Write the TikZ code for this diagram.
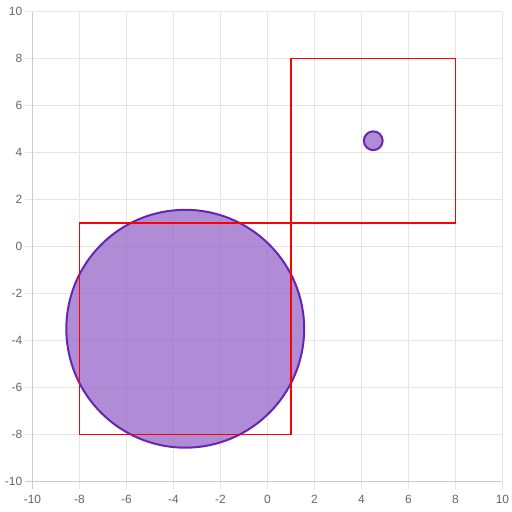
\documentclass[tikz,border=0pt]{standalone}
\usepackage{fontspec}
\setmainfont{Liberation Sans}
\usepackage{xcolor}
\definecolor{blobline}{RGB}{102,38,178}
\definecolor{blobfill}{RGB}{176,139,214}
\definecolor{blobgrid}{RGB}{170,132,207}
\definecolor{regionred}{RGB}{255,0,0}

\begin{document}
\begin{tikzpicture}[
        x=0.705cm, y=0.705cm,
        gridline/.style={draw=gray!20, line width=0.03cm},
        axisline/.style={draw=gray!40, line width=0.03cm},
        ticklabel/.style={text=gray!80!black, font=\fontsize{10.2}{12}\selectfont, inner sep=0pt},
        region/.style={draw=regionred, line width=0.04cm},
        blob/.style={draw=blobline, fill=blobfill, line width=0.06cm}
    ]
        \useasboundingbox (-11.383,-11.298) rectangle (10.4043,10.4894);
        % grid and ticks
        \foreach \v in {-8,-6,...,10} {
            \draw[gridline] (\v,-10.34) -- (\v,10);
            \draw[gridline] (-10.34,\v) -- (10,\v);
        }
        \draw[axisline] (-10,-10.34) -- (-10,10);
        \draw[axisline] (-10.34,-10) -- (10,-10);
        \foreach \v in {-10,-8,...,10} {
            \node[ticklabel, anchor=east] (ylab\v) at (-10.426,\v) {\v};
            \node[ticklabel] (xlab\v) at (\v,-10.76) {\v};
        }
        % circles
        \fill[blobfill] (-3.5,-3.5) circle [radius=5.06];
        \begin{scope}
            \clip (-3.5,-3.5) circle [radius=5.06];
            \foreach \v in {-8,-6,...,0} {
                \draw[gridline, draw=blobgrid] (\v,-10) -- (\v,10);
                \draw[gridline, draw=blobgrid] (-10,\v) -- (10,\v);
            }
        \end{scope}
        \draw[blobline, line width=0.06cm] (-3.5,-3.5) circle [radius=5.06];
        \draw[blob] (4.5,4.5) circle [radius=0.4];
        % squares
        \coordinate (corner) at (1,1);
        \draw[region] (-8,-8) rectangle (corner);
        \draw[region] (corner) rectangle (8,8);
    \end{tikzpicture}
\end{document}
